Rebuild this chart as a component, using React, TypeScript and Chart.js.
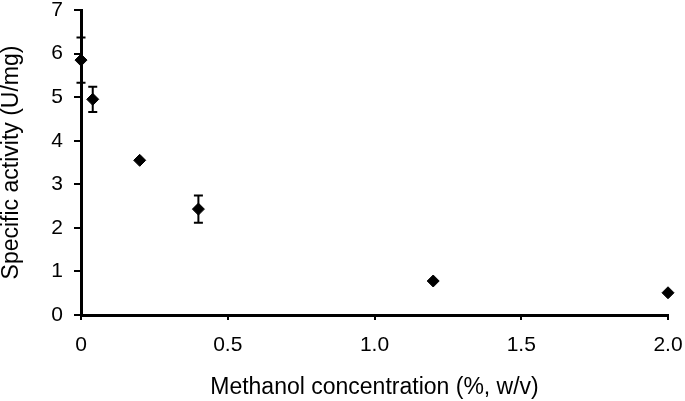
import React, { useEffect, useRef } from "react";
import { Chart, registerables } from "chart.js";

Chart.register(...registerables);

const concentrations = [0, 0.04, 0.2, 0.4, 1.2, 2.0];
const activity = [5.85, 4.95, 3.55, 2.43, 0.78, 0.51];
const activityErr = [0.52, 0.29, 0.05, 0.31, 0.04, 0.03];
const xTickValues = [0, 0.5, 1.0, 1.5, 2.0];
const xTickLabels = ["0", "0.5", "1.0", "1.5", "2.0"];
const yTickValues = [0, 1, 2, 3, 4, 5, 6, 7];
const yTickLabels = ["0", "1", "2", "3", "4", "5", "6", "7"];

const FONT = "'Liberation Sans', Arial, Helvetica, sans-serif";

const errorBarPlugin = {
  id: "errorBars",
  beforeDatasetsDraw(chart: any) {
    const ctx = chart.ctx;
    const xs = chart.scales.x;
    const ys = chart.scales.y;
    ctx.save();
    ctx.strokeStyle = "#000";
    ctx.lineWidth = 2;
    concentrations.forEach((c, i) => {
      const e = activityErr[i];
      if (e < 0.1) return;
      const px = xs.getPixelForValue(c);
      const top = ys.getPixelForValue(activity[i] + e);
      const bot = ys.getPixelForValue(activity[i] - e);
      const cap = 4.5;
      ctx.beginPath();
      ctx.moveTo(px, top);
      ctx.lineTo(px, bot);
      ctx.moveTo(px - cap, top);
      ctx.lineTo(px + cap, top);
      ctx.moveTo(px - cap, bot);
      ctx.lineTo(px + cap, bot);
      ctx.stroke();
    });
    ctx.restore();
  },
};

export default function App() {
  const ref = useRef<HTMLCanvasElement | null>(null);
  useEffect(() => {
    if (!ref.current) return;
    const chart = new Chart(ref.current, {
      type: "scatter",
      data: {
        datasets: [
          {
            label: "Specific activity",
            data: concentrations.map((c, i) => ({ x: c, y: activity[i] })),
            pointStyle: "rectRot",
            pointRadius: 6,
            pointBackgroundColor: "#000",
            pointBorderColor: "#000",
            pointBorderWidth: 1,
            showLine: false,
            clip: false,
          },
        ],
      },
      plugins: [errorBarPlugin],
      options: {
        responsive: false,
        animation: false,
        layout: { padding: { top: 10, right: 0, bottom: 0, left: 0 } },
        plugins: {
          legend: { display: false },
          tooltip: { enabled: false },
        },
        scales: {
          x: {
            type: "linear",
            min: 0,
            max: 2,
            afterBuildTicks: (s: any) => {
              s.ticks = xTickValues.map((v) => ({ value: v }));
            },
            afterFit: (s: any) => {
              s.height = 401 - 315;
              s.paddingRight = 17;
              s.paddingLeft = 0;
            },
            ticks: {
              color: "#000",
              font: { family: FONT, size: 21 },
              padding: 13,
              callback: (v: any) => {
                const i = xTickValues.indexOf(Number(v));
                return i >= 0 ? xTickLabels[i] : "";
              },
            },
            grid: {
              drawOnChartArea: false,
              drawTicks: true,
              tickLength: 5,
              color: "#000",
              lineWidth: 2,
            },
            border: { display: true, color: "#000", width: 3 },
            title: {
              display: true,
              text: "Methanol concentration (%, w/v)",
              color: "#000",
              font: { family: FONT, size: 23 },
              padding: { top: 4, bottom: 0 },
            },
          },
          y: {
            type: "linear",
            min: 0,
            max: 7,
            afterBuildTicks: (s: any) => {
              s.ticks = yTickValues.map((v) => ({ value: v }));
            },
            afterFit: (s: any) => {
              s.width = 81;
              s.paddingTop = 0;
              s.paddingBottom = 0;
            },
            ticks: {
              color: "#000",
              font: { family: FONT, size: 21 },
              padding: 11,
              callback: (v: any) => {
                const i = yTickValues.indexOf(Number(v));
                return i >= 0 ? yTickLabels[i] : "";
              },
            },
            grid: {
              drawOnChartArea: false,
              drawTicks: true,
              tickLength: 7,
              color: "#000",
              lineWidth: 2,
            },
            border: { display: true, color: "#000", width: 3 },
            title: {
              display: true,
              text: "Specific activity (U/mg)",
              color: "#000",
              font: { family: FONT, size: 23 },
              padding: { top: -2, bottom: 6 },
            },
          },
        },
      },
    } as any);
    return () => chart.destroy();
  }, []);
  return (
    <div style={{ position: "fixed", left: 0, top: 0, width: 685, height: 401, background: "#fff" }}>
      <canvas ref={ref} width={685} height={401} style={{ display: "block" }} />
    </div>
  );
}
